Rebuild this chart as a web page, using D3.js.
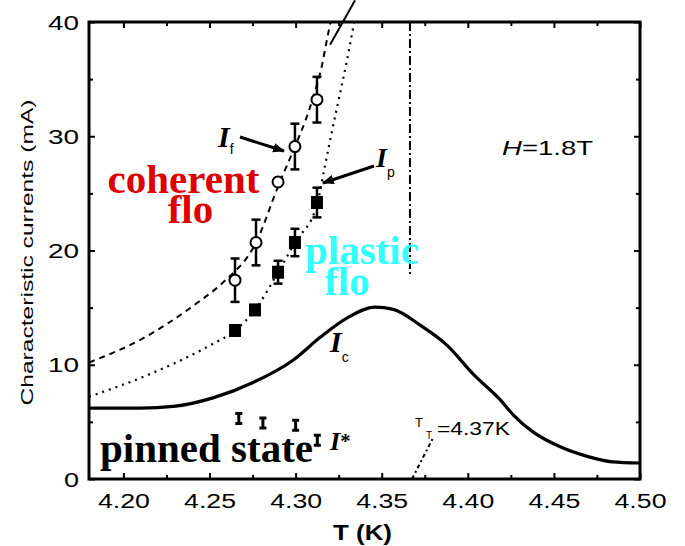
<!DOCTYPE html>
<html>
<head>
<meta charset="utf-8">
<script src="https://cdn.jsdelivr.net/npm/d3@7"></script>
<style>
    body { margin: 0; background: #fff; }
    svg { display: block; }
</style>
</head>
<body>
<div id="chart"></div>
<script>
// I_f : onset of coherent flow (open circles with error bars)
const coherentT = [4.2648, 4.2770, 4.2898, 4.2996, 4.3124];
const coherentI = [17.4, 20.7, 26.0, 29.1, 33.2];
const coherentErr = [1.9, 2.0, 0, 2.0, 2.0];

// I_p : onset of plastic flow (filled squares)
const plasticT = [4.2648, 4.2764, 4.2898, 4.2996, 4.3124];
const plasticI = [13.0, 14.8, 18.1, 20.7, 24.2];
const plasticErr = [0, 0, 1.0, 1.2, 1.3];

// I* : small markers near the pinned region
const starT = [4.267, 4.281, 4.300, 4.3126];
const starI = [5.3, 4.9, 4.7, 3.4];

// guide curves
const coherentFitT = [4.18, 4.21, 4.2427, 4.2578, 4.2770, 4.2898, 4.2996, 4.3060, 4.3110, 4.3150, 4.3180, 4.3205];
const coherentFitI = [10.2, 12.2, 15.4, 17.2, 20.7, 25.6, 29.1, 31.5, 33.8, 36.0, 38.3, 40.2];

const plasticFitT = [4.18, 4.2172, 4.2503, 4.2648, 4.2764, 4.2898, 4.2996, 4.3124, 4.3165, 4.3205, 4.3250, 4.3295, 4.3340];
const plasticFitI = [7.2, 9.3, 11.7, 13.0, 14.8, 18.1, 20.7, 24.0, 27.0, 30.0, 33.2, 36.4, 40.0];

// I_c : critical current (solid curve)
const criticalT = [4.18, 4.21, 4.229, 4.252, 4.2753, 4.2985, 4.3143, 4.330, 4.346, 4.3567, 4.3725, 4.388, 4.403, 4.419, 4.4265, 4.438, 4.454, 4.469, 4.484, 4.50];
const criticalI = [6.2, 6.2, 6.35, 7.1, 8.45, 10.4, 12.4, 14.1, 15.05, 14.85, 13.45, 11.7, 9.2, 6.9, 5.6, 4.1, 2.8, 2.0, 1.5, 1.4];

// axis ticks
const xMajorTicks = [4.20, 4.25, 4.30, 4.35, 4.40, 4.45, 4.50];
const xMinorTicks = [4.225, 4.275, 4.325, 4.375, 4.425, 4.475];
const yMajorTicks = [0, 10, 20, 30, 40];
const yMinorTicks = [5, 15, 25, 35];

const T_T = 4.3664; // transition temperature line

const width = 685;
const height = 546;

const x = d3.scaleLinear().domain([4.18, 4.50]).range([89, 640]);
const y = d3.scaleLinear().domain([0, 40]).range([479, 22]);

const svg = d3.select("#chart")
    .append("svg")
    .attr("width", width)
    .attr("height", height)
    .attr("viewBox", [0, 0, width, height]);

svg.append("defs")
    .append("clipPath")
    .attr("id", "plot-clip")
    .append("rect")
    .attr("x", x(4.18))
    .attr("y", y(40))
    .attr("width", x(4.50) - x(4.18))
    .attr("height", y(0) - y(40));

svg.select("defs")
    .append("marker")
    .attr("id", "arrow")
    .attr("viewBox", "0 0 10 10")
    .attr("refX", 9)
    .attr("refY", 5)
    .attr("markerWidth", 4)
    .attr("markerHeight", 4)
    .attr("orient", "auto")
    .append("path")
    .attr("d", "M0,1 L10,5 L0,9 Z")
    .attr("fill", "#000");

// ---- axes (ticks point inwards) ----
const bottom = svg.append("g")
    .attr("transform", `translate(0,${y(0)})`)
    .call(d3.axisBottom(x).tickValues(xMajorTicks).tickSize(-6).tickFormat(d3.format(".2f")));
bottom.selectAll("text")
    .attr("y", 29)
    .attr("dy", null)
    .attr("font-family", "'Liberation Sans', Arial, sans-serif")
    .attr("font-size", 20)
    .attr("fill", "#000")
    .attr("textLength", 52)
    .attr("lengthAdjust", "spacingAndGlyphs");

svg.append("g")
    .attr("transform", `translate(0,${y(0)})`)
    .call(d3.axisBottom(x).tickValues(xMinorTicks).tickSize(-4).tickFormat(""));

svg.append("g")
    .attr("transform", `translate(0,${y(40)})`)
    .call(d3.axisTop(x).tickValues(xMajorTicks).tickSize(-6).tickFormat(""));
svg.append("g")
    .attr("transform", `translate(0,${y(40)})`)
    .call(d3.axisTop(x).tickValues(xMinorTicks).tickSize(-4).tickFormat(""));

const left = svg.append("g")
    .attr("transform", `translate(${x(4.18)},0)`)
    .call(d3.axisLeft(y).tickValues(yMajorTicks).tickSize(-6));
left.selectAll("text")
    .attr("x", -10)
    .attr("dy", "0.36em")
    .attr("font-family", "'Liberation Sans', Arial, sans-serif")
    .attr("font-size", 20)
    .attr("fill", "#000")
    .attr("textLength", d => d === 0 ? 15 : 31)
    .attr("lengthAdjust", "spacingAndGlyphs");
svg.append("g")
    .attr("transform", `translate(${x(4.18)},0)`)
    .call(d3.axisLeft(y).tickValues(yMinorTicks).tickSize(-4).tickFormat(""));

svg.append("g")
    .attr("transform", `translate(${x(4.50)},0)`)
    .call(d3.axisRight(y).tickValues(yMajorTicks).tickSize(-6).tickFormat(""));
svg.append("g")
    .attr("transform", `translate(${x(4.50)},0)`)
    .call(d3.axisRight(y).tickValues(yMinorTicks).tickSize(-4).tickFormat(""));

svg.selectAll(".domain").remove();
svg.selectAll(".tick line").attr("stroke", "#000").attr("stroke-width", 2);

// frame
svg.append("rect")
    .attr("x", x(4.18))
    .attr("y", y(40))
    .attr("width", x(4.50) - x(4.18))
    .attr("height", y(0) - y(40))
    .attr("fill", "none")
    .attr("stroke", "#000")
    .attr("stroke-width", 3);

// axis titles
svg.append("text")
    .attr("transform", `translate(33,${(y(0) + y(40)) / 2 + 2}) rotate(-90)`)
    .attr("text-anchor", "middle")
    .attr("font-family", "'Liberation Sans', Arial, sans-serif")
    .attr("font-size", 17)
    .attr("textLength", 306)
    .attr("lengthAdjust", "spacingAndGlyphs")
    .text("Characteristic currents (mA)");

svg.append("text")
    .attr("x", (x(4.18) + x(4.50)) / 2 - 2)
    .attr("y", 540)
    .attr("text-anchor", "middle")
    .attr("font-family", "'Liberation Sans', Arial, sans-serif")
    .attr("font-weight", "bold")
    .attr("font-size", 22)
    .attr("textLength", 59)
    .attr("lengthAdjust", "spacingAndGlyphs")
    .text("T (K)");

// ---- curves ----
const line = d3.line()
    .x(d => x(d[0]))
    .y(d => y(d[1]))
    .curve(d3.curveMonotoneX);

const plot = svg.append("g").attr("clip-path", "url(#plot-clip)");

plot.append("path")
    .datum(d3.zip(coherentFitT, coherentFitI))
    .attr("d", line)
    .attr("fill", "none")
    .attr("stroke", "#000")
    .attr("stroke-width", 2)
    .attr("stroke-dasharray", "6,5");

plot.append("path")
    .datum(d3.zip(plasticFitT, plasticFitI))
    .attr("d", line)
    .attr("fill", "none")
    .attr("stroke", "#000")
    .attr("stroke-width", 2.2)
    .attr("stroke-dasharray", "2,5");

plot.append("path")
    .datum(d3.zip(criticalT, criticalI))
    .attr("d", line)
    .attr("fill", "none")
    .attr("stroke", "#000")
    .attr("stroke-width", 3.2);

// T_T vertical dash-dot line
plot.append("line")
    .attr("x1", x(T_T)).attr("x2", x(T_T))
    .attr("y1", y(40)).attr("y2", y(17.7))
    .attr("stroke", "#000")
    .attr("stroke-width", 2)
    .attr("stroke-dasharray", "9,3,2,3");

// pointer from axis to the T_T label
plot.append("line")
    .attr("x1", x(4.3676)).attr("y1", y(0))
    .attr("x2", x(4.3798)).attr("y2", y(3.6))
    .attr("stroke", "#000")
    .attr("stroke-width", 2)
    .attr("stroke-dasharray", "4,3,2,3");

// line leaving the frame at the top
svg.append("line")
    .attr("x1", x(4.32)).attr("y1", y(38.0))
    .attr("x2", x(4.3345)).attr("y2", y(41.9))
    .attr("stroke", "#000")
    .attr("stroke-width", 2);

// ---- data points ----
function errorBar(g, t, i, e, cap) {
    if (!e) return;
    g.append("line")
        .attr("x1", x(t)).attr("x2", x(t))
        .attr("y1", y(i - e)).attr("y2", y(i + e))
        .attr("stroke", "#000").attr("stroke-width", 2.5);
    [i - e, i + e].forEach(v => {
        g.append("line")
            .attr("x1", x(t) - cap).attr("x2", x(t) + cap)
            .attr("y1", y(v)).attr("y2", y(v))
            .attr("stroke", "#000").attr("stroke-width", 2.5);
    });
}

const marks = svg.append("g");

coherentT.forEach((t, k) => errorBar(marks, t, coherentI[k], coherentErr[k], 4.5));
plasticT.forEach((t, k) => errorBar(marks, t, plasticI[k], plasticErr[k], 4.5));

marks.selectAll(".coherent")
    .data(d3.zip(coherentT, coherentI))
    .enter()
    .append("circle")
    .attr("class", "coherent")
    .attr("cx", d => x(d[0]))
    .attr("cy", d => y(d[1]))
    .attr("r", 5.5)
    .attr("fill", "#fff")
    .attr("stroke", "#000")
    .attr("stroke-width", 2);

marks.selectAll(".plastic")
    .data(d3.zip(plasticT, plasticI))
    .enter()
    .append("rect")
    .attr("class", "plastic")
    .attr("x", d => x(d[0]) - 6)
    .attr("y", d => y(d[1]) - 6.5)
    .attr("width", 12)
    .attr("height", 13)
    .attr("fill", "#000");

// I* markers: small serif "I" shapes
marks.selectAll(".star")
    .data(d3.zip(starT, starI))
    .enter()
    .append("path")
    .attr("class", "star")
    .attr("d", d => {
        const cx = x(d[0]), cy = y(d[1]);
        return `M${cx - 3.5},${cy - 5}h7 M${cx},${cy - 5}v10 M${cx - 3.5},${cy + 5}h7`;
    })
    .attr("stroke", "#000")
    .attr("stroke-width", 3)
    .attr("fill", "none");

// ---- annotations ----
const serif = "'Liberation Serif', 'Times New Roman', serif";
const sans = "'Liberation Sans', Arial, sans-serif";

// two-line region labels kept in one text element
function regionLabel(lines, color, anchor) {
    const txt = svg.append("text")
        .attr("text-anchor", anchor)
        .attr("font-family", serif)
        .attr("font-weight", "bold")
        .attr("font-size", 41)
        .attr("fill", color);
    lines.forEach(l => {
        txt.append("tspan")
            .attr("x", x(l.t))
            .attr("y", y(l.i))
            .text(l.text);
    });
}

regionLabel([{ text: "coherent", t: 4.2349, i: 25.05 }, { text: "flo", t: 4.2389, i: 22.41 }], "#dd0000", "middle");
regionLabel([{ text: "plastic", t: 4.3385, i: 18.82 }, { text: "flo", t: 4.3298, i: 16.10 }], "#33ffff", "middle");
regionLabel([{ text: "pinned state", t: 4.1864, i: 1.49 }], "#000", "start");

function currentLabel(t, i, sub, size, subDrop) {
    const g = svg.append("text")
        .attr("x", x(t))
        .attr("y", y(i))
        .attr("font-family", serif)
        .attr("font-weight", "bold")
        .attr("font-style", "italic")
        .attr("font-size", size);
    g.append("tspan").text("I");
    if (sub === "*") {
        g.append("tspan").attr("font-style", "normal").attr("font-size", size * 0.8).attr("dy", -2).text("*");
    } else {
        g.append("tspan")
            .attr("font-style", "normal")
            .attr("font-family", sans)
            .attr("font-weight", "normal")
            .attr("font-size", 14)
            .attr("dy", subDrop)
            .text(sub);
    }
}

currentLabel(4.2549, 29.06, "f", 30, 7);
currentLabel(4.3467, 27.31, "p", 28, 10);
currentLabel(4.3200, 11.12, "c", 30, 10);
currentLabel(4.3200, 2.54, "*", 26, 0);

// arrows pointing from labels to curves
svg.append("line")
    .attr("x1", x(4.2677)).attr("y1", y(29.93))
    .attr("x2", x(4.2932)).attr("y2", y(28.71))
    .attr("stroke", "#000").attr("stroke-width", 3)
    .attr("marker-end", "url(#arrow)");
svg.append("line")
    .attr("x1", x(4.3455)).attr("y1", y(27.40))
    .attr("x2", x(4.3159)).attr("y2", y(25.91))
    .attr("stroke", "#000").attr("stroke-width", 3)
    .attr("marker-end", "url(#arrow)");

// H = 1.8 T
const hLabel = svg.append("text")
    .attr("x", x(4.4199))
    .attr("y", y(28.36))
    .attr("font-family", sans)
    .attr("font-size", 21)
    .attr("textLength", 91)
    .attr("lengthAdjust", "spacingAndGlyphs");
hLabel.append("tspan").attr("font-style", "italic").text("H");
hLabel.append("tspan").text("=1.8T");

// T_T = 4.37 K
const ttLabel = svg.append("text")
    .attr("x", x(4.3693))
    .attr("y", y(4.55))
    .attr("font-family", sans)
    .attr("font-size", 13);
ttLabel.append("tspan").text("T");
ttLabel.append("tspan").attr("font-size", 10).attr("dy", 12).attr("dx", 3).text("T");
ttLabel.append("tspan")
    .attr("x", x(4.3821))
    .attr("y", y(3.85))
    .attr("font-size", 19)
    .attr("textLength", 73)
    .attr("lengthAdjust", "spacingAndGlyphs")
    .text("=4.37K");
</script>
</body>
</html>
